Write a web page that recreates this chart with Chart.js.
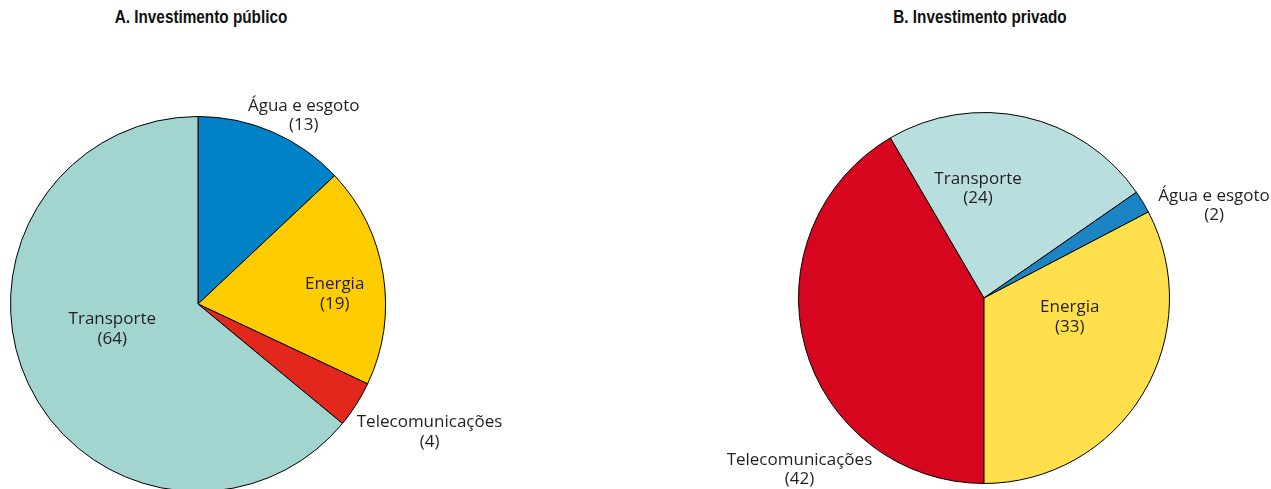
<!DOCTYPE html>
<html>
<head>
<meta charset="utf-8">
<script src="https://cdn.jsdelivr.net/npm/chart.js@4"></script>
<style>
  html, body { margin: 0; padding: 0; background: #fff; overflow: hidden; }
  body { width: 1271px; height: 489px; position: relative; }
  .title {
    position: absolute; top: 7px; width: 300px; text-align: center;
    font-family: "Liberation Sans Narrow", "Arial Narrow", "Liberation Sans", sans-serif;
    font-weight: bold; font-size: 18px; color: #111;
    transform: scaleX(0.85); transform-origin: center;
  }
  canvas { position: absolute; top: 0; }
</style>
</head>
<body>
<div class="title" style="left:51px">A. Investimento público</div>
<div class="title" style="left:830px">B. Investimento privado</div>
<canvas id="publicChart" width="635" height="500" style="left:0"></canvas>
<canvas id="privateChart" width="635" height="500" style="left:635px"></canvas>
<script>
// shares in percent
const publicLabels = ["Água e esgoto", "Energia", "Telecomunicações", "Transporte"];
const publicValues = [13, 19, 4, 64];
const publicColors = ["#0082C6", "#FFCC00", "#E2281C", "#A2D5D0"];

const privateLabels = ["Telecomunicações", "Transporte", "Água e esgoto", "Energia"];
const privateValues = [42, 24, 2, 33];
const privateColors = ["#D6061E", "#B8DEDE", "#1B84C4", "#FFDF4B"];

// where each label sits, as fractions of the pie radius from its centre
const publicLabelPos = {
    "Água e esgoto": [0.564, -1.005],
    "Energia": [0.729, -0.053],
    "Telecomunicações": [1.235, 0.681],
    "Transporte": [-0.457, 0.133]
};
const privateLabelPos = {
    "Telecomunicações": [-0.995, 0.925],
    "Transporte": [-0.032, -0.591],
    "Água e esgoto": [1.24, -0.5],
    "Energia": [0.462, 0.102]
};

const sliceLabels = {
    id: "sliceLabels",
    afterDatasetsDraw(chart, args, opts) {
        const ctx = chart.ctx;
        const meta = chart.getDatasetMeta(0);
        const values = chart.data.datasets[0].data;
        ctx.save();
        ctx.font = "17px 'Open Sans', sans-serif";
        ctx.fillStyle = "#231F20";
        ctx.textAlign = "center";
        ctx.textBaseline = "middle";
        meta.data.forEach((arc, i) => {
            const name = chart.data.labels[i];
            const pos = opts.pos[name];
            const x = arc.x + arc.outerRadius * pos[0];
            const y = arc.y + arc.outerRadius * pos[1];
            ctx.fillText(name, x, y - 9.5);
            ctx.fillText("(" + values[i] + ")", x, y + 10);
        });
        ctx.restore();
    }
};

function makePie(id, labels, values, colors, rotation, padding, labelPos) {
    const ctx = document.getElementById(id).getContext("2d");
    return new Chart(ctx, {
        type: "pie",
        data: {
            labels: labels,
            datasets: [{
                data: values,
                backgroundColor: colors,
                borderColor: "#000",
                borderWidth: 1,
                hoverOffset: 0
            }]
        },
        options: {
            responsive: false,
            animation: false,
            devicePixelRatio: 1,
            rotation: rotation,
            layout: { padding: padding },
            plugins: {
                legend: { display: false },
                tooltip: { enabled: false },
                sliceLabels: { pos: labelPos }
            }
        },
        plugins: [sliceLabels]
    });
}

makePie("publicChart", publicLabels, publicValues, publicColors, 0,
    { left: 10, top: 116, right: 249, bottom: 8 }, publicLabelPos);
makePie("privateChart", privateLabels, privateValues, privateColors, 180,
    { left: 163, top: 112, right: 100, bottom: 16 }, privateLabelPos);
</script>
</body>
</html>
